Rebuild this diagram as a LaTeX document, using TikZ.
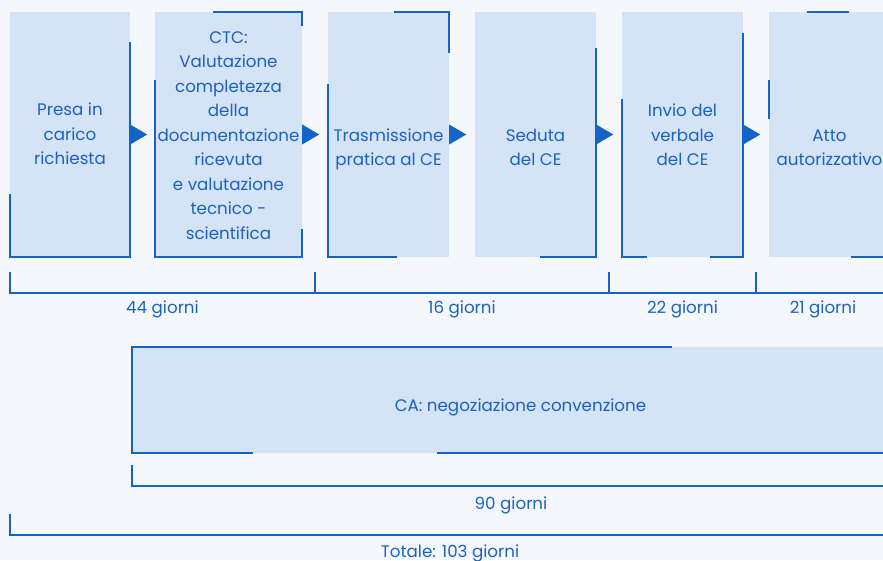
\documentclass[tikz,border=0pt]{standalone}
\usepackage{fontspec}
\setmainfont{Poppins}
\usetikzlibrary{calc}
\definecolor{bgc}{HTML}{F4F8FD}
\definecolor{boxc}{HTML}{D4E3F5}
\definecolor{linec}{HTML}{1563C6}
\definecolor{textc}{HTML}{1B62C2}
\tikzset{
  boxf/.style={draw=none,fill=boxc,inner sep=0pt,minimum height=245pt},
  cabox/.style={draw=none,fill=boxc,inner sep=0pt,minimum height=106pt,minimum width=758pt},
  lbl/.style={text=textc,inner sep=0pt,align=center,font=\fontsize{16.7}{24.5}\selectfont},
  bl/.style={text=textc,inner sep=0pt,anchor=base,font=\fontsize{16.7}{24.5}\selectfont},
  edge/.style={draw=linec,line width=2pt,line join=miter},
  tri/.style={fill=linec}
}
\begin{document}
\begin{tikzpicture}[x=1pt,y=-1pt]
\useasboundingbox (0,0) rectangle (883,560);
\fill[bgc] (0,0) rectangle (883,560);
% boxes
\node[boxf,minimum width=120pt] (b1) at (70,134.5) {};
\node[boxf,minimum width=147pt] (b2) at (228.5,134.5) {};
\node[boxf,minimum width=121pt] (b3) at (388.5,134.5) {};
\node[boxf,minimum width=121pt] (b4) at (535.5,134.5) {};
\node[boxf,minimum width=121pt] (b5) at (682.5,134.5) {};
\node[boxf,minimum width=121pt] (b6) at (829.5,134.5) {};
\node[cabox] (ca) at (511,400) {};
% partial borders
\draw[edge] (130,42) -- (130,257) -- (10,257) -- (10,194);
\draw[edge] (213,12) -- (302,12) -- (302,26);
\draw[edge] (302,229) -- (302,257) -- (155,257) -- (155,80);
\draw[edge] (394,12) -- (449,12) -- (449,53);
\draw[edge] (397,257) -- (328,257) -- (328,84);
\draw[edge] (596,48) -- (596,257) -- (540,257);
\draw[edge] (743,33) -- (743,257) -- (710,257);
\draw[edge] (647,257) -- (622,257) -- (622,99);
\draw[edge] (807,12) -- (849,12);
\draw[edge] (769,80) -- (769,119);
\draw[edge] (851,257) -- (890,257);
\draw[edge] (672,347) -- (132,347) -- (132,453) -- (253,453);
\draw[edge] (437,453) -- (890,453);
% arrows
\foreach \a in {b1,b2,b3,b4,b5}{
  \fill[tri] ($(\a.east)+(0pt,10pt)$) -- ($(\a.east)+(17pt,0pt)$) -- ($(\a.east)+(0pt,-10pt)$) -- cycle;
}
% texts
\node[lbl] (t1) at (70,135.3) {\strut Presa in\\\strut carico\\\strut richiesta};
\node[lbl] (t2) at (228.5,136.1) {\strut CTC:\\\strut Valutazione\\\strut completezza\\\strut della\\\strut documentazione\\\strut ricevuta\\\strut e valutazione\\\strut tecnico -\\\strut scientifica};
\node[lbl] (t3) at (388.5,148.35) {\strut Trasmissione\\\strut pratica al CE};
\node[lbl] (t4) at (535.5,148.35) {\strut Seduta\\\strut del CE};
\node[lbl] (t5) at (682.5,136.1) {\strut Invio del\\\strut verbale\\\strut del CE};
\node[lbl] (t6) at (829.5,148.35) {\strut Atto\\\strut autorizzativo};
\node[bl] (tca) at (520.5,411.7) {CA: negoziazione convenzione};
% brackets
\coordinate (k0) at (10,272);
\coordinate (k1) at (315,272);
\coordinate (k2) at (609,272);
\coordinate (k3) at (756,272);
\coordinate (k4) at (890,272);
\draw[edge] (k0) -- (10,293) -- (890,293) -- (k4);
\foreach \k in {k1,k2,k3}{\draw[edge] (\k) -- ++(0pt,-21pt);}
\node[bl] (d1) at (162.5,313) {44 giorni};
\node[bl] (d2) at (462,313) {16 giorni};
\node[bl] (d3) at (682.5,313) {22 giorni};
\node[bl] (d4) at (823,313) {21 giorni};
\draw[edge] (132,465) -- (132,486) -- (890,486) -- (890,465);
\node[bl] (d5) at (511,509.3) {90 giorni};
\draw[edge] (10,514) -- (10,535) -- (890,535) -- (890,514);
\node[bl] (d6) at (450,557.5) {Totale: 103 giorni};
\end{tikzpicture}
\end{document}
